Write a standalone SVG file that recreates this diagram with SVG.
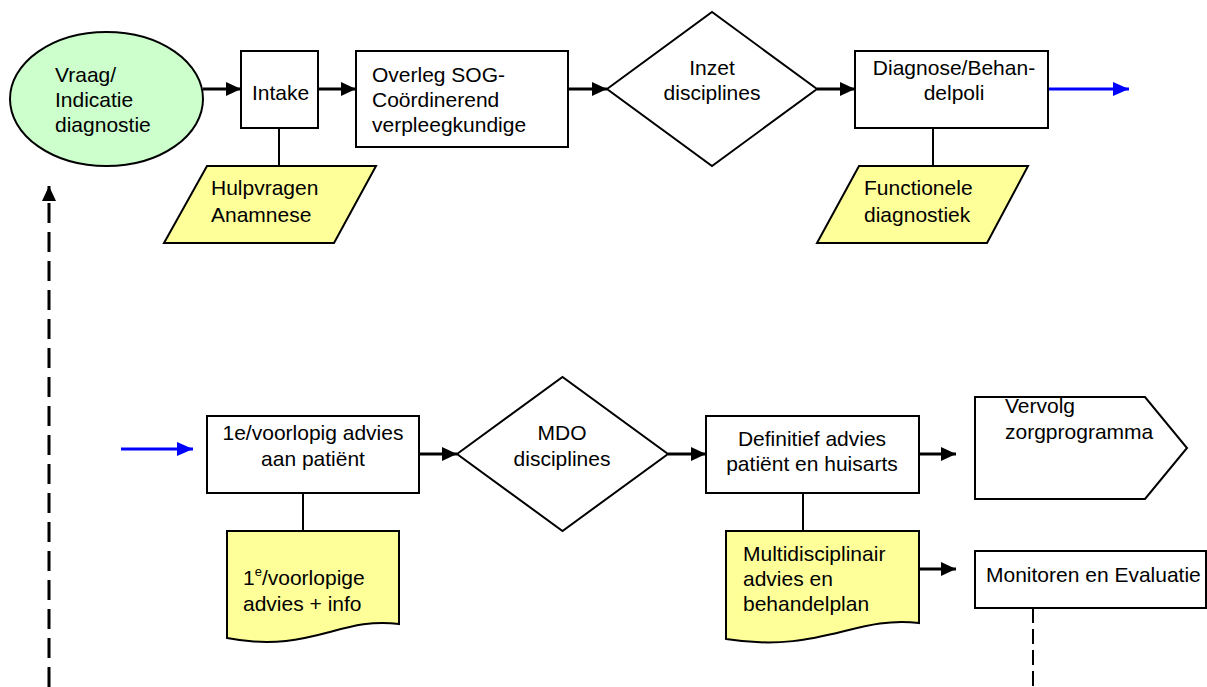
<svg xmlns="http://www.w3.org/2000/svg" width="1207" height="687" viewBox="0 0 1207 687">
<defs>
<style>
text{font-family:"Liberation Sans",Arial,sans-serif;font-size:21px;fill:#000}
.c{text-anchor:middle}
.box{fill:#fff;stroke:#000;stroke-width:2}
.yel{fill:#ffff99;stroke:#000;stroke-width:2}
.grn{fill:#ccffcc;stroke:#000;stroke-width:2}
.arr{stroke:#000;stroke-width:3;fill:none}
.blue{stroke:#0000ff;stroke-width:3;fill:none}
.thin{stroke:#000;stroke-width:2;fill:none}
</style>
<marker id="ah" markerWidth="15" markerHeight="14" refX="15" refY="7" orient="auto" markerUnits="userSpaceOnUse"><path d="M0,0 L15,7 L0,14 Z" fill="#000"/></marker>
<marker id="ahb" markerWidth="16" markerHeight="14" refX="16" refY="7" orient="auto" markerUnits="userSpaceOnUse"><path d="M0,0 L16,7 L0,14 Z" fill="#0000ff"/></marker>
</defs>

<g id="connectors">
<line class="arr" x1="203" y1="89" x2="241" y2="89" marker-end="url(#ah)"/>
<line class="arr" x1="318" y1="89" x2="356" y2="89" marker-end="url(#ah)"/>
<line class="arr" x1="568" y1="89" x2="607" y2="89" marker-end="url(#ah)"/>
<line class="arr" x1="817" y1="89" x2="855" y2="89" marker-end="url(#ah)"/>
<line class="blue" x1="1048" y1="89" x2="1129" y2="89" marker-end="url(#ahb)"/>
<line class="thin" x1="279" y1="128" x2="279" y2="166"/>
<line class="thin" x1="933" y1="128" x2="933" y2="166"/>
<line class="arr" x1="49" y1="687" x2="49" y2="186" stroke-dasharray="20 9" marker-end="url(#ah)"/>
<line class="blue" x1="121" y1="449" x2="193" y2="449" marker-end="url(#ahb)"/>
<line class="arr" x1="419" y1="454" x2="457" y2="454" marker-end="url(#ah)"/>
<line class="arr" x1="668" y1="454" x2="706" y2="454" marker-end="url(#ah)"/>
<line class="arr" x1="919" y1="454" x2="956" y2="454" marker-end="url(#ah)"/>
<line class="thin" x1="303" y1="493" x2="303" y2="531"/>
<line class="thin" x1="803" y1="493" x2="803" y2="531"/>
<line class="arr" x1="919" y1="569" x2="956" y2="569" marker-end="url(#ah)"/>
<line class="thin" x1="1033" y1="608" x2="1033" y2="687" stroke-dasharray="15 6"/>
</g>

<g id="vraag">
<ellipse class="grn" cx="106.5" cy="99" rx="96.5" ry="67"/>
<text x="55" y="82">Vraag/</text>
<text x="55" y="107">Indicatie</text>
<text x="55" y="132">diagnostie</text>
</g>

<g id="intake">
<rect class="box" x="241" y="51" width="77" height="77"/>
<text x="252" y="100">Intake</text>
</g>

<g id="overleg">
<rect class="box" x="356" y="51" width="212" height="96"/>
<text x="372" y="82">Overleg SOG-</text>
<text x="372" y="107">Coördinerend</text>
<text x="372" y="132">verpleegkundige</text>
</g>

<g id="inzet">
<polygon class="box" points="607,89 712,12 817,89 712,166"/>
<text class="c" x="712" y="75">Inzet</text>
<text class="c" x="712" y="100">disciplines</text>
</g>

<g id="diagnose">
<rect class="box" x="855" y="51" width="193" height="77"/>
<text class="c" x="954" y="75">Diagnose/Behan-</text>
<text class="c" x="954" y="100">delpoli</text>
</g>

<g id="hulpvragen">
<polygon class="yel" points="207,166 376,166 334,243 164,243"/>
<text x="211" y="195">Hulpvragen</text>
<text x="211" y="222">Anamnese</text>
</g>

<g id="functionele">
<polygon class="yel" points="859,166 1028,166 987,243 817,243"/>
<text x="864" y="195">Functionele</text>
<text x="864" y="222">diagnostiek</text>
</g>

<g id="voorlopig">
<rect class="box" x="207" y="416" width="212" height="77"/>
<text class="c" x="313" y="440">1e/voorlopig advies</text>
<text class="c" x="313" y="466">aan patiënt</text>
</g>

<g id="mdo">
<polygon class="box" points="457,454 562.5,377 668,454 562.5,531"/>
<text class="c" x="562" y="440">MDO</text>
<text class="c" x="562" y="466">disciplines</text>
</g>

<g id="definitief">
<rect class="box" x="706" y="416" width="213" height="77"/>
<text class="c" x="812" y="446">Definitief advies</text>
<text class="c" x="812" y="471">patiënt en huisarts</text>
</g>

<g id="vervolg">
<polygon class="box" points="975,397 1145,397 1187,448 1145,499 975,499"/>
<text x="1005" y="413">Vervolg</text>
<text x="1005" y="439">zorgprogramma</text>
</g>

<g id="doc1">
<path class="yel" d="M227,531 H399 V624 C340,616 310,654 227,638 Z"/>
<text x="243" y="585">1<tspan font-size="13" dy="-9">e</tspan><tspan dy="9">/voorlopige</tspan></text>
<text x="243" y="611">advies + info</text>
</g>

<g id="doc2">
<path class="yel" d="M726,531 H919 V623 C855,615 820,654 726,639 Z"/>
<text x="743" y="561">Multidisciplinair</text>
<text x="743" y="586">advies en</text>
<text x="743" y="611">behandelplan</text>
</g>

<g id="monitoren">
<rect class="box" x="975" y="551" width="231" height="57"/>
<text x="986" y="582">Monitoren en Evaluatie</text>
</g>
</svg>
